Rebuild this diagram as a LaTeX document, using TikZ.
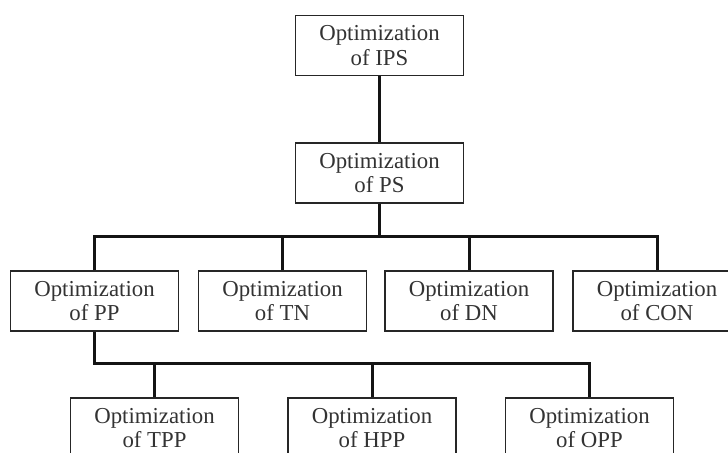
\documentclass[tikz,border=0pt]{standalone}
\usepackage{fontspec}
\setmainfont{Liberation Serif}

\definecolor{Frame}{HTML}{262626}
\definecolor{Label}{HTML}{333333}
\definecolor{Link}{HTML}{141414}

\begin{document}
\begin{tikzpicture}[x=0.5pt, y=-0.5pt,
  opt/.style={draw=Frame, line width=0.75pt, text=Label, align=center,
    minimum width=84pt, minimum height=30pt, inner sep=0pt,
    font=\fontsize{11.4}{12.2}\selectfont},
  link/.style={draw=Link, line width=1.5pt}]

 \clip (0,0) rectangle (728,453);

 %%%%%%%%%% Levels 1 and 2 %%%%%%%%%%
 \node[opt] (ips) at (379.5,45.5) {Optimization\\of IPS};
 \node[opt] (ps) at (379.5,173) {Optimization\\of PS};

 %%%%%%%%%% Level 3 %%%%%%%%%%
 \node[opt] (pp) at (94.5,301) {Optimization\\of PP};
 \node[opt] (tn) at (282.5,301) {Optimization\\of TN};
 \node[opt] (dn) at (469,301) {Optimization\\of DN};
 \node[opt] (con) at (657,301) {Optimization\\of CON};

 %%%%%%%%%% Level 4 %%%%%%%%%%
 \node[opt] (tpp) at (154.5,428) {Optimization\\of TPP};
 \node[opt] (hpp) at (372,428) {Optimization\\of HPP};
 \node[opt] (opp) at (589.5,428) {Optimization\\of OPP};

 %%%%%%%%%% Buses %%%%%%%%%%
 \coordinate (busA) at (379.5,237);
 \coordinate (busB) at (94.5,364);

 %%%%%%%%%% Connectors %%%%%%%%%%
 \draw[link] (ips) -- (ps);
 \draw[link] (ps) -- (busA);
 \draw[link] (pp.north) |- (con.north |- busA) -- (con.north);
 \draw[link] (tn.north) -- (tn.north |- busA);
 \draw[link] (dn.north) -- (dn.north |- busA);

 \draw[link] (pp.south) -- (busB) -- (opp.north |- busB) -- (opp.north);
 \draw[link] (tpp.north) -- (tpp.north |- busB);
 \draw[link] (hpp.north) -- (hpp.north |- busB);

\end{tikzpicture}
\end{document}
